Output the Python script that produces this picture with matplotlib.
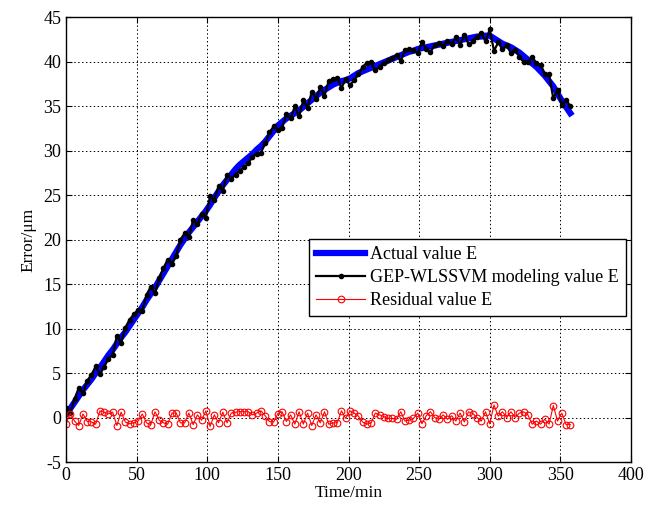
import numpy as np
import matplotlib
matplotlib.use('Agg')
import matplotlib.pyplot as plt

plt.rcParams['font.family'] = ['Liberation Serif', 'DejaVu Serif']
plt.rcParams['axes.unicode_minus'] = False

# time samples every 3 min, 0..357
time_min = np.arange(0, 360, 3)

# actual value E (smooth curve)
actual_e = [
    0.4, 1.0, 1.7, 2.4, 3.1, 3.7, 4.3, 5.0, 5.6, 6.3,
    7.0, 7.6, 8.3, 9.0, 9.6, 10.3, 11.0, 11.7, 12.4, 13.2,
    13.9, 14.6, 15.4, 16.2, 17.0, 17.8, 18.6, 19.4, 20.1, 20.8,
    21.4, 22.0, 22.6, 23.2, 23.9, 24.7, 25.4, 26.1, 26.7, 27.3,
    27.9, 28.4, 28.8, 29.2, 29.6, 30.1, 30.5, 31.0, 31.6, 32.2,
    32.8, 33.2, 33.6, 33.9, 34.2, 34.5, 34.9, 35.3, 35.7, 36.1,
    36.5, 36.8, 37.1, 37.4, 37.6, 37.8, 37.9, 38.1, 38.4, 38.7,
    38.9, 39.1, 39.3, 39.5, 39.7, 39.9, 40.1, 40.3, 40.5, 40.7,
    40.9, 41.1, 41.2, 41.4, 41.5, 41.6, 41.7, 41.8, 41.9, 42.0,
    42.1, 42.2, 42.3, 42.4, 42.5, 42.6, 42.7, 42.8, 42.8, 42.9,
    42.9, 42.6, 42.3, 42.0, 41.8, 41.6, 41.3, 41.0, 40.6, 40.2,
    39.8, 39.4, 38.9, 38.4, 37.8, 37.2, 36.4, 35.6, 34.9, 34.2,
]

# residual = actual - model
residual_e = [
    -0.7, 0.45, -0.4, -0.9, 0.4, -0.45, -0.5, -0.75, 0.75, 0.6,
    0.4, 0.6, -0.9, 0.6, -0.5, -0.7, -0.6, -0.4, 0.4, -0.6,
    -0.8, 0.65, -0.3, -0.6, -0.75, 0.5, 0.5, -0.6, -0.6, 0.5,
    -0.8, 0.3, -0.3, 0.75, -1.0, 0.3, -0.6, 0.6, -0.6, 0.5,
    0.6, 0.65, 0.65, 0.65, 0.3, 0.5, 0.75, 0.2, -0.45, -0.5,
    0.45, 0.65, -0.45, 0.3, -0.75, 0.65, -0.75, 0.5, -0.9, 0.3,
    -0.6, 0.65, -0.75, -0.6, -0.6, 0.75, -0.1, 0.75, 0.5, 0.15,
    -0.5, -0.75, -0.6, 0.5, 0.3, 0.1, -0.1, -0.1, -0.2, 0.65,
    -0.4, -0.3, -0.1, 0.5, -0.7, 0.2, 0.65, 0.0, -0.2, 0.3,
    -0.2, 0.2, -0.4, 0.5, -0.5, 0.65, 0.45, 0.0, -0.4, 0.65,
    -0.7, 1.4, 0.15, 0.65, 0.0, 0.65, 0.0, 0.5, 0.65, 0.3,
    -0.75, -0.4, -0.75, -0.2, -0.75, 1.35, -0.4, 0.5, -0.8, -0.8,
]

model_e = np.array(actual_e) - np.array(residual_e)

fig = plt.figure(figsize=(6.57, 5.09), dpi=100)
ax = fig.add_axes([0.1005, 0.0923, 0.8599, 0.8743])

ax.plot(time_min, actual_e, color='#0000ff', lw=4.5, label='Actual value E')
ax.plot(time_min, model_e, color='black', lw=1.6, marker='.', ms=6,
        label='GEP-WLSSVM modeling value E')
ax.plot(time_min, residual_e, color='red', lw=0.8, marker='o', ms=4.8,
        mfc='none', mew=0.8, label='Residual value E')

ax.set_xlim(0, 400)
ax.set_ylim(-5, 45)
ax.set_xticks(np.arange(0, 401, 50))
ax.set_yticks(np.arange(-5, 46, 5))
ax.grid(True, color='black', linestyle=(0, (1.5, 2.5)), linewidth=0.7)
ax.tick_params(direction='in', top=True, right=True, labelsize=13, length=4)
for s in ax.spines.values():
    s.set_linewidth(1.0)

ax.set_xlabel('Time/min', fontsize=12.5, labelpad=1)
ax.set_ylabel('Error/μm', fontsize=12.5, labelpad=5)

leg = ax.legend(loc='upper left', bbox_to_anchor=(0.43, 0.501), fontsize=13,
                frameon=True, fancybox=False, edgecolor='black', framealpha=1,
                handlelength=2.7, handletextpad=0.3, labelspacing=0.32,
                borderpad=0.4, borderaxespad=0)
leg.get_frame().set_linewidth(1.0)

fig.savefig('out.png', dpi=100)
